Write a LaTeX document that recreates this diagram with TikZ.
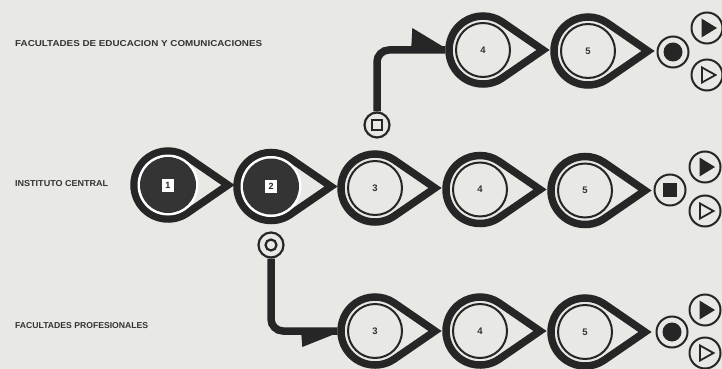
\documentclass[tikz,border=0pt]{standalone}
\usepackage{graphicx}
\usepackage{fontspec}
\setmainfont{Liberation Sans}
\definecolor{paper}{HTML}{E8E8E5}
\definecolor{ink}{HTML}{262626}
\definecolor{disc}{HTML}{343434}
\definecolor{txt}{HTML}{333333}
\tikzset{
  ring/.style={draw=ink, line width=7.5pt, line join=miter, miter limit=10},
  thin/.style={draw=ink, line width=2pt},
  stage/.style={circle, minimum size=75pt, inner sep=0pt, text=txt,
    font=\bfseries\fontsize{9.5}{9.5}\selectfont},
  darkbox/.style={fill=white, minimum width=12pt, minimum height=13pt, inner sep=0pt,
    text=ink, font=\bfseries\fontsize{9}{9}\selectfont},
  conn/.style={draw=ink, line width=7.5pt, rounded corners=12pt},
  endc/.style={circle, draw=ink, line width=2pt, minimum size=31pt, inner sep=0pt},
  smallc/.style={circle, draw=ink, line width=2.2pt, minimum size=25pt, inner sep=0pt},
  lbl/.style={anchor=west, inner sep=0pt, text=txt, font=\bfseries}
}
% teardrop outline around coordinate #1
\newcommand\tdshape[1]{%
  \draw[ring] ([shift={(60,0)}]#1) -- ([shift={(55.5:34)}]#1)
    arc[start angle=55.5, end angle=304.5, radius=34] -- cycle;}
\newcommand\lightstage[3]{% name, position, label
  \coordinate (#1c) at #2;
  \tdshape{#1c}
  \draw[thin] (#1c) circle[radius=27];
  \node[stage] (#1) at (#1c) {#3};}
\newcommand\darkstage[3]{% name, position, label
  \coordinate (#1c) at #2;
  \tdshape{#1c}
  \fill[white] (#1c) circle[radius=30.5];
  \fill[disc] (#1c) circle[radius=28];
  \node[stage] (#1) at (#1c) {};
  \node[darkbox] (#1lab) at (#1c) {#3};}
\newcommand\playsym[2]{% name, position
  \node[endc] (#1) at #2 {};
  \fill[ink] ([shift={(-5.5,-9.5)}]#1.center) -- ([shift={(-5.5,9.5)}]#1.center) -- ([shift={(10,0)}]#1.center) -- cycle;}
\newcommand\opensym{}
\renewcommand\opensym[2]{% name, position
  \node[endc] (#1) at #2 {};
  \draw[ink, line width=1.8pt, line join=miter] ([shift={(-5,-7.5)}]#1.center) -- ([shift={(-5,7.5)}]#1.center) -- ([shift={(8.5,0)}]#1.center) -- cycle;}
\begin{document}
\begin{tikzpicture}[x=1pt, y=-1pt]
\useasboundingbox (0,0) rectangle (722,369);
\fill[paper] (0,0) rectangle (722,369);

% labels
\node[lbl] (lab1) at (15,44) {\resizebox{247pt}{6pt}{FACULTADES DE EDUCACION Y COMUNICACIONES}};
\node[lbl] (lab2) at (15,184) {\resizebox{93pt}{6pt}{INSTITUTO CENTRAL}};
\node[lbl] (lab3) at (15,326) {\resizebox{133pt}{6pt}{FACULTADES PROFESIONALES}};

% connectors (drawn first, symbols on top)
\node[smallc, fill=paper] (sq) at (377,125) {};
\node[smallc, fill=paper] (ci) at (271,245) {};
\coordinate (t4c) at (483,50);
\coordinate (b3c) at (375,331);
\node[stage] (t4w) at (t4c) {};
\node[stage] (b3w) at (b3c) {};
\draw[conn] (sq.north) |- (t4w.west);
\draw[conn] (ci.south) |- (b3w.west);
\fill[ink] ([shift={(-34,-3)}]t4w.west) -- ([shift={(-33,-22)}]t4w.west) -- ([shift={(0,-2)}]t4w.west) -- cycle;
\fill[ink] ([shift={(-36,3)}]b3w.west) -- ([shift={(-35,16)}]b3w.west) -- ([shift={(0,2)}]b3w.west) -- cycle;
\draw[ink, line width=1.8pt] ([shift={(-5,-5)}]sq.center) rectangle ([shift={(5,5)}]sq.center);
\draw[ink, line width=2.2pt] (ci.center) circle[radius=5.5];

% top row
\lightstage{t4}{(483,50)}{4}
\lightstage{t5}{(588,51)}{5}
\node[endc] (te) at (673,52) {};
\fill[ink] (te.center) circle[radius=9.5];
\playsym{tp}{(707,28)}
\opensym{to}{(707,75)}

% middle row
\darkstage{m1}{(168,185)}{1}
\darkstage{m2}{(271,186.5)}{2}
\lightstage{m3}{(375,188)}{3}
\lightstage{m4}{(480,189.5)}{4}
\lightstage{m5}{(585,190.5)}{5}
\node[endc] (me) at (670,190) {};
\fill[ink] ([shift={(-7,-7)}]me.center) rectangle ([shift={(7,7)}]me.center);
\playsym{mp}{(705,167)}
\opensym{mo}{(705,211)}

% bottom row
\lightstage{b3}{(375,331)}{3}
\lightstage{b4}{(480,331)}{4}
\lightstage{b5}{(585,332)}{5}
\node[endc] (be) at (672,332) {};
\fill[ink] (be.center) circle[radius=9.5];
\playsym{bp}{(705,310)}
\opensym{bo}{(705,353)}
\end{tikzpicture}
\end{document}
